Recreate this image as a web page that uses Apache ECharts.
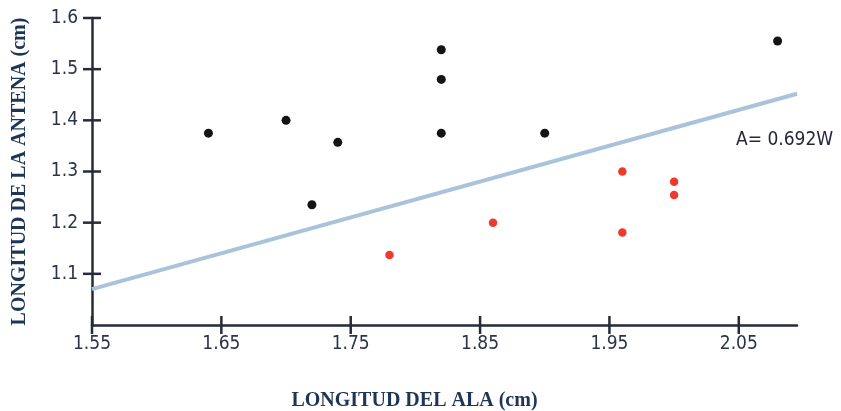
<!DOCTYPE html>
<html>
<head>
<meta charset="utf-8">
<script src="https://cdn.jsdelivr.net/npm/echarts@6/dist/echarts.min.js"></script>
<style>html,body{margin:0;padding:0;background:#fff;}#c{width:841px;height:411px;}</style>
</head>
<body>
<div id="c"></div>
<script>
const xTicks = [1.55, 1.65, 1.75, 1.85, 1.95, 2.05];
const yTicks = [1.1, 1.2, 1.3, 1.4, 1.5, 1.6];
const blackPoints = [[1.64,1.375],[1.70,1.40],[1.72,1.235],[1.74,1.357],[1.82,1.538],[1.82,1.48],[1.82,1.375],[1.90,1.375],[2.08,1.555]];
const redPoints = [[1.78,1.137],[1.86,1.20],[1.96,1.30],[1.96,1.181],[2.00,1.28],[2.00,1.254]];
const fitLine = [[1.55,1.07],[2.095,1.452]];
const fitLabel = 'A= 0.692W';
const xName = 'LONGITUD DEL ALA (cm)';
const yName = 'LONGITUD DE LA ANTENA (cm)';

const X_MIN = 1.55, X_MAX = 2.095, Y_MIN = 1.0, Y_MAX = 1.6;
const chart = echarts.init(document.getElementById('c'), null, {renderer:'canvas'});
const axisColor = '#262b36';
const condFont = 'DejaVu Sans Condensed, Liberation Sans Narrow, Roboto, sans-serif';
const labelFont = {fontFamily:condFont, fontSize:19, color:'#2a3347'};
const nameFont = {fontFamily:'Liberation Serif, DejaVu Serif, serif', fontWeight:'bold', fontSize:20, color:'#1e3557'};
const gridBox = {left:92, right:44, top:18, bottom:86, containLabel:false, outerBoundsMode:'none'};
const axisLineStyle = {show:true, onZero:false, lineStyle:{color:axisColor, width:2.5}};
const TICK_HALF = 9;

chart.setOption({
  backgroundColor:'#fff',
  animation:false,
  grid:gridBox,
  xAxis:{
    type:'value', min:X_MIN, max:X_MAX, interval:0.1, position:'bottom',
    splitLine:{show:false},
    name:xName, nameLocation:'middle', nameGap:66,
    nameTextStyle:Object.assign({padding:[0,60,0,0]}, nameFont),
    axisLine:axisLineStyle,
    axisTick:{show:false},
    axisLabel:Object.assign({margin:10, formatter:v => xTicks.some(t=>Math.abs(t-v)<1e-6) ? v.toFixed(2) : ''}, labelFont)
  },
  yAxis:{
    type:'value', min:Y_MIN, max:Y_MAX, interval:0.1, position:'left',
    splitLine:{show:false},
    name:yName, nameLocation:'middle', nameGap:62, nameRotate:90, nameTextStyle:nameFont,
    axisLine:axisLineStyle,
    axisTick:{show:false},
    axisLabel:Object.assign({margin:14, formatter:v => yTicks.some(t=>Math.abs(t-v)<1e-6) ? v.toFixed(1) : ''}, labelFont)
  },
  series:[
    {type:'line', data:fitLine, showSymbol:false, symbol:'none',
     lineStyle:{color:'#a8c3da', width:4}, z:1},
    {type:'scatter', data:blackPoints, symbolSize:9, itemStyle:{color:'#141418', opacity:1}, z:3},
    {type:'scatter', data:redPoints, symbolSize:8.5, itemStyle:{color:'#ec3a2e', opacity:1}, z:3},
    {type:'custom', clip:false, silent:true, z:4,
     data:xTicks.map(v => [v, Y_MIN]),
     renderItem:(params, api) => {
       const p = api.coord([api.value(0), Y_MIN]);
       return {type:'line', shape:{x1:p[0], y1:p[1]-TICK_HALF, x2:p[0], y2:p[1]+TICK_HALF},
               style:{stroke:axisColor, lineWidth:2.5}};
     }},
    {type:'custom', clip:false, silent:true, z:4,
     data:yTicks.map(v => [X_MIN, v]),
     renderItem:(params, api) => {
       const p = api.coord([X_MIN, api.value(1)]);
       return {type:'line', shape:{x1:p[0]-TICK_HALF, y1:p[1], x2:p[0]+TICK_HALF, y2:p[1]},
               style:{stroke:axisColor, lineWidth:2.5}};
     }}
  ],
  graphic:[
    {type:'text', left:736, top:131, style:{text:fitLabel, fontFamily:condFont, fontWeight:'normal', fontSize:19, fill:'#23283a'}}
  ]
});
</script>
</body>
</html>
